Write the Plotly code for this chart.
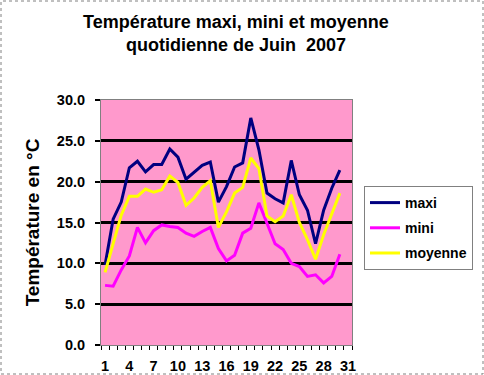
import plotly.graph_objects as go

days = list(range(1, 31))
maxi = [9.8, 15.4, 17.5, 21.7, 22.5, 21.2, 22.1, 22.1, 24.0, 23.0, 20.3, 21.2, 22.0, 22.4, 17.5,
        19.4, 21.8, 22.3, 27.8, 23.9, 18.6, 17.9, 17.4, 22.6, 18.4, 16.5, 12.4, 16.5, 19.2, 21.4]
mini = [7.3, 7.2, 9.2, 10.9, 14.4, 12.5, 14.0, 14.7, 14.5, 14.4, 13.7, 13.3, 13.9, 14.4, 11.8,
        10.3, 11.0, 13.7, 14.3, 17.4, 14.9, 12.4, 11.7, 10.0, 9.6, 8.4, 8.6, 7.6, 8.4, 11.1]
moyenne = [8.9, 12.4, 15.9, 18.2, 18.2, 19.1, 18.7, 19.0, 20.7, 19.9, 17.1, 18.0, 19.3, 20.1, 14.4,
           16.3, 18.6, 19.3, 22.9, 21.6, 15.8, 15.1, 15.8, 18.4, 15.0, 12.9, 10.5, 13.5, 16.1, 18.6]
x_ticks = [1, 4, 7, 10, 13, 16, 19, 22, 25, 28, 31]
y_ticks = [0, 5, 10, 15, 20, 25, 30]

FONT = "Liberation Sans, Arial, sans-serif"

fig = go.Figure()
series = [("maxi", maxi, "#000080"), ("mini", mini, "#FF00FF"), ("moyenne", moyenne, "#FFFF00")]
for name, vals, col in series:
    fig.add_trace(go.Scatter(x=days, y=vals, mode="lines", name="<b>" + name + "</b>",
                             legendgroup=name, line=dict(color=col, width=3)))

W, H = 484, 375
L, R, T, B = 101, 132, 100, 30
pw, ph = W - L - R, H - T - B

fig.update_layout(
    width=W, height=H,
    margin=dict(l=L, r=R, t=T, b=B, autoexpand=False),
    paper_bgcolor="white",
    plot_bgcolor="#FF99CC",
    font=dict(family=FONT, color="black", size=14),
    title=dict(text="<b>Température maxi, mini et moyenne<br>quotidienne de Juin\u00a0 2007</b>",
               x=236 / W, xref="container", xanchor="center",
               y=1 - 24 / H, yref="container", yanchor="top", pad=dict(t=4),
               font=dict(size=18, family=FONT, color="black")),
    legend=dict(x=(364 - L) / pw, xanchor="left", y=(H - B - 186) / ph, yanchor="top",
                bgcolor="white", bordercolor="#808080", borderwidth=1,
                font=dict(size=14, family=FONT), tracegroupgap=4,
                traceorder="grouped", itemwidth=30),
    showlegend=True,
)

fig.update_xaxes(
    range=[0.5, 31.5], tickmode="array", tickvals=x_ticks,
    ticktext=["<b>%d</b>" % v for v in x_ticks],
    ticks="", showgrid=False, zeroline=False,
    showline=True, linecolor="#808080", linewidth=1, mirror=True,
    minor=dict(ticks="outside", tickvals=[i + 0.5 for i in range(0, 32)], ticklen=4,
               tickcolor="black", tickwidth=1, showgrid=False),
    tickfont=dict(size=14.5, family=FONT), ticklabelstandoff=8,
)
fig.update_yaxes(
    range=[0, 30], tickmode="array", tickvals=y_ticks,
    ticktext=["<b>%.1f</b>" % v for v in y_ticks],
    ticks="outside", ticklen=5, tickcolor="black", tickwidth=2,
    showgrid=True, gridcolor="black", gridwidth=3, zeroline=False,
    showline=True, linecolor="#808080", linewidth=1, mirror=True,
    title=dict(text="<b>Température en °C</b>", font=dict(size=19, family=FONT), standoff=12),
    tickfont=dict(size=14.5, family=FONT), ticklabelstandoff=7,
)

# dotted frame around the whole chart
fig.add_shape(type="rect", xref="paper", yref="paper",
              x0=(1 - L) / pw, x1=(W - 1 - L) / pw,
              y0=-(B - 1) / ph, y1=(H - 1 - B) / ph,
              line=dict(color="#808080", width=1, dash="dot"), layer="below")

fig.write_html("out.html", config={"displayModeBar": False},
               post_script="document.body.style.margin='0';document.body.style.overflow='hidden';")
